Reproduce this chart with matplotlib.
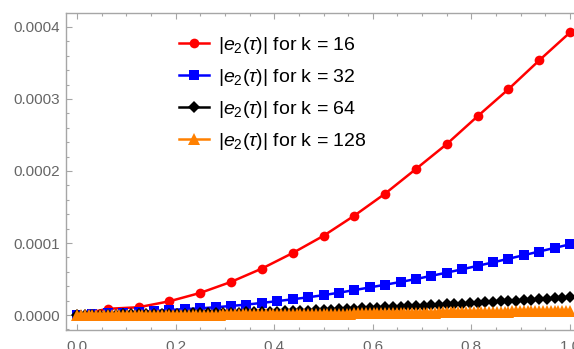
import numpy as np
import matplotlib
matplotlib.use("Agg")
import matplotlib.pyplot as plt
from matplotlib.ticker import MultipleLocator, FormatStrFormatter

# error |e2(tau)|, in units of 1e-6
err_k16 = [0, 8.6, 10.8, 19.1, 30.7, 46.0, 64.5, 86.1, 110.0, 138.0, 168.6,
           202.8, 237.4, 276.0, 313.5, 353.6, 392.4]

err_k32 = [0, 1.8, 2.4, 2.9, 3.6, 5.6, 7.0, 8.2, 9.3, 10.8, 12.6, 14.5, 16.8,
           19.3, 21.9, 24.6, 27.6, 31.0, 34.6, 38.3, 42.1, 45.9, 50.0, 54.4,
           58.9, 63.5, 68.3, 73.1, 78.1, 83.1, 88.2, 93.2, 98.2]

err_k64 = [0, 0.22, 0.45, 0.52, 0.6, 0.66, 0.73, 0.81, 0.9, 1.15, 1.4, 1.58,
           1.75, 1.9, 2.05, 2.19, 2.33, 2.51, 2.7, 2.92, 3.15, 3.39, 3.63, 3.91,
           4.2, 4.51, 4.83, 5.15, 5.48, 5.81, 6.15, 6.52, 6.9, 7.32, 7.75, 8.2,
           8.65, 9.11, 9.58, 10.05, 10.53, 11.0, 11.48, 11.99, 12.5, 13.05,
           13.6, 14.16, 14.73, 15.3, 15.88, 16.48, 17.08, 17.68, 18.28, 18.9,
           19.53, 20.15, 20.78, 21.41, 22.05, 22.68, 23.3, 23.93, 24.55]

err_k128 = [0, 0.03, 0.055, 0.08, 0.11, 0.12, 0.13, 0.14, 0.15, 0.16, 0.165,
            0.17, 0.18, 0.19, 0.2, 0.21, 0.225, 0.26, 0.29, 0.32, 0.35, 0.37,
            0.395, 0.42, 0.44, 0.46, 0.475, 0.49, 0.51, 0.53, 0.55, 0.565,
            0.58, 0.6, 0.63, 0.655, 0.68, 0.705, 0.73, 0.76, 0.79, 0.82, 0.85,
            0.88, 0.91, 0.945, 0.98, 1.015, 1.05, 1.09, 1.13, 1.17, 1.21, 1.25,
            1.29, 1.33, 1.37, 1.41, 1.45, 1.5, 1.54, 1.585, 1.63, 1.68, 1.73,
            1.78, 1.83, 1.885, 1.94, 1.995, 2.05, 2.105, 2.16, 2.22, 2.28,
            2.34, 2.4, 2.455, 2.51, 2.57, 2.63, 2.69, 2.75, 2.81, 2.87, 2.935,
            3.0, 3.065, 3.13, 3.195, 3.26, 3.33, 3.4, 3.47, 3.54, 3.61, 3.68,
            3.755, 3.83, 3.9, 3.97, 4.045, 4.12, 4.195, 4.27, 4.345, 4.42,
            4.495, 4.57, 4.65, 4.73, 4.805, 4.88, 4.96, 5.04, 5.12, 5.2, 5.275,
            5.35, 5.43, 5.51, 5.59, 5.67, 5.75, 5.83, 5.905, 5.98, 6.06, 6.14]

series = [
    (16, err_k16, "#FF0000", "o", 7.0),
    (32, err_k32, "#0000FF", "s", 7.0),
    (64, err_k64, "#000000", "D", 6.4),
    (128, err_k128, "#FF8000", "^", 8.0),
]

plt.rcParams.update({
    "font.family": ["Liberation Sans", "DejaVu Sans"],
    "mathtext.fontset": "custom",
    "mathtext.rm": "Liberation Sans",
    "mathtext.it": "Liberation Sans:italic",
})

GRAY = "#A6A6A6"
LABEL = "#666666"

fig = plt.figure(figsize=(5.74, 3.49), dpi=100)
ax = fig.add_axes([66 / 574, 19 / 349, 515 / 574, 317 / 349])

for k, vals, col, mk, ms in series:
    v = np.array(vals) * 1e-6
    tau = np.linspace(0, 1, len(v))
    ax.plot(tau, v, color=col, lw=1.8, marker=mk, ms=ms, mew=0,
            label=rf"$|e_2(\tau)|$ for k = {k}")

ax.set_xlim(-0.0223, 1.0223)
ax.set_ylim(-2.08e-5, 4.194e-4)

ax.xaxis.set_major_locator(MultipleLocator(0.2))
ax.xaxis.set_minor_locator(MultipleLocator(0.05))
ax.yaxis.set_major_locator(MultipleLocator(0.0001))
ax.yaxis.set_minor_locator(MultipleLocator(0.00002))
ax.xaxis.set_major_formatter(FormatStrFormatter("%.1f"))
ax.yaxis.set_major_formatter(FormatStrFormatter("%.4f"))

for spine in ax.spines.values():
    spine.set_color(GRAY)
    spine.set_linewidth(1.0)

ax.tick_params(which="both", direction="in", top=True, right=True,
               color=GRAY, labelcolor=LABEL, labelsize=11)
ax.tick_params(which="major", length=4, width=0.8)
ax.tick_params(which="minor", length=2.2, width=0.8)
ax.tick_params(axis="x", pad=7)
ax.tick_params(axis="y", pad=4)

ax.legend(loc="upper left", bbox_to_anchor=(179 / 574, 1 - 35 / 349),
          bbox_transform=fig.transFigure, frameon=False, fontsize=14,
          handlelength=1.54, handletextpad=0.46, labelspacing=0.56,
          borderpad=0, borderaxespad=0, numpoints=1)

fig.savefig("out.png", dpi=100)
